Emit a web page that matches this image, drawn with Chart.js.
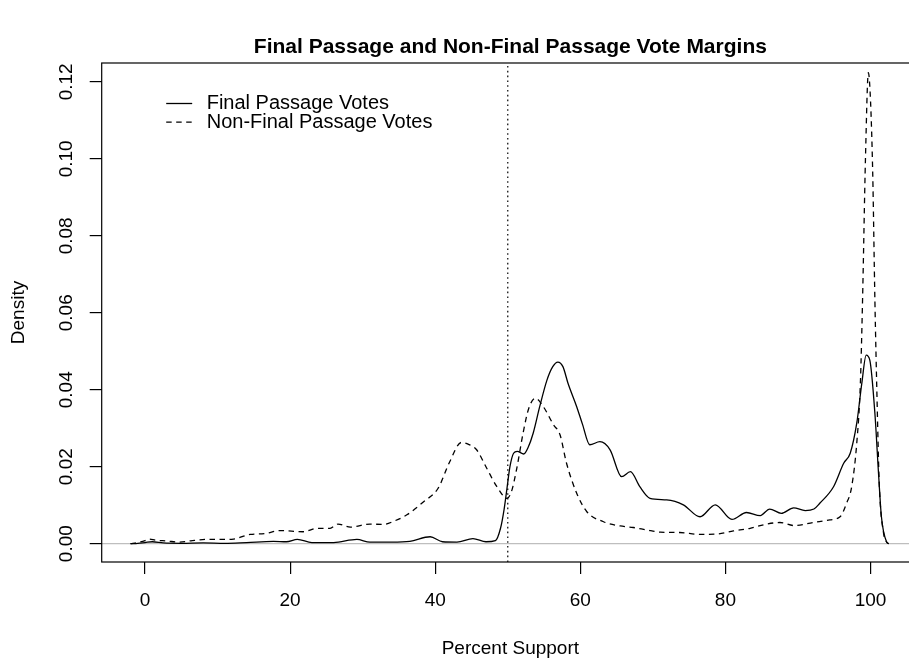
<!DOCTYPE html>
<html>
<head>
<meta charset="utf-8">
<script src="https://cdn.jsdelivr.net/npm/chart.js@4.4.0/dist/chart.umd.min.js"></script>
<style>
html,body{margin:0;padding:0;overflow:hidden;background:#fff;width:909px;height:663px;}
#wrap{position:absolute;left:0;top:0;width:919px;height:663px;}
</style>
</head>
<body>
<div id="wrap"><canvas id="c"></canvas></div>
<script>
// ---------- data ----------
const chartTitle = "Final Passage and Non-Final Passage Vote Margins";
const xAxisTitle = "Percent Support";
const yAxisTitle = "Density";
const seriesNames = ["Final Passage Votes", "Non-Final Passage Votes"];

const xTickValues = [0, 20, 40, 60, 80, 100];
const xTickLabels = ["0", "20", "40", "60", "80", "100"];
const yTickValues = [0, 0.02, 0.04, 0.06, 0.08, 0.10, 0.12];
const yTickLabels = ["0.00", "0.02", "0.04", "0.06", "0.08", "0.10", "0.12"];

const cutoffX = 50;

const finalX = [-2.0,-1.0,0.0,1.0,2.5,5,8,11,14,17.7,19.5,21,23,26,29.2,31,34,36.5,39.3,41,43,45.2,47,48.3,
  49.0,49.5,49.9,50.3,50.8,51.3,52.2,52.8,53.5,54.4,55.4,56.2,56.9,57.6,58.3,59.5,60.3,61.3,62.7,64.1,
  65.7,66.9,68.2,69.6,71.9,74.2,76.5,78.6,80.9,82.9,84.8,86.1,87.7,89.4,91.0,92.2,93.0,94.9,96.3,97.2,
  98.1,98.8,99.4,99.9,100.6,101.1,101.5,102.2,102.5];
const finalY = [0,0.0001,0.0003,0.0005,0.0002,0.0001,0.0002,0.0001,0.0003,0.0006,0.0005,0.0011,0.0003,0.0003,0.0011,0.0004,0.0004,0.0006,0.0018,0.0005,0.0004,0.0013,0.0005,0.0008,
  0.0040,0.0090,0.0145,0.0200,0.0235,0.0240,0.0233,0.0250,0.0287,0.0356,0.0425,0.0460,0.0472,0.0460,0.0417,0.0356,0.0310,0.0257,0.0265,0.0244,
  0.0174,0.0187,0.0148,0.0118,0.0114,0.0101,0.0070,0.0101,0.0063,0.0081,0.0073,0.0090,0.0079,0.0093,0.0086,0.0090,0.0105,0.0148,0.0209,0.0235,
  0.0313,0.0417,0.0490,0.0477,0.0339,0.0183,0.0070,0.0005,0];

const nonFinalX = [-2.0,-1,0,0.5,1.5,3,4.8,6.5,8.5,10.5,12.2,14.5,16.5,18.6,21.8,23.7,25.5,26.6,28.3,31,32.8,34.5,
  36.1,38.4,40.4,42.0,43.6,44.6,45.7,47.1,48.5,49.9,50.5,51.2,52.2,52.9,53.8,54.9,56.3,57.2,58.1,59.5,60.9,
  63.2,65.5,67.3,69.1,71.0,73.7,76.5,78.8,81.1,83.4,85.7,87.5,89.5,92.1,94.4,95.8,96.7,97.4,98.1,98.6,98.9,
  99.3,99.7,100.0,100.3,100.6,100.9,101.2,101.8,102.2,102.5];
const nonFinalY = [0,0.0003,0.0008,0.0012,0.0009,0.0007,0.0004,0.0008,0.0011,0.0011,0.0012,0.0024,0.0026,0.0034,0.0031,0.0040,0.0040,0.0051,0.0043,0.0051,0.0050,0.0060,
  0.0075,0.0109,0.0144,0.0213,0.0263,0.0258,0.0244,0.0196,0.0148,0.0118,0.0135,0.0192,0.0296,0.0352,0.0378,0.0356,0.0309,0.0283,0.0209,0.0131,0.0083,
  0.0057,0.0046,0.0042,0.0036,0.0030,0.0029,0.0024,0.0025,0.0033,0.0040,0.0051,0.0055,0.0047,0.0055,0.0062,0.0070,0.0105,0.0148,0.0261,0.0417,0.0633,
  0.1000,0.1224,0.1150,0.0963,0.0633,0.0373,0.0157,0.0027,0.0005,0];

// ---------- chart ----------
const FONT = '"Liberation Sans", Arial, Helvetica, sans-serif';
Chart.defaults.font.family = FONT;
Chart.defaults.color = '#000';

const X_MIN = -5.97, X_MAX = 106.68;
const Y_MIN = -0.00476, Y_MAX = 0.1249;

const toPts = (xs, ys) => xs.map((x, i) => ({x: x, y: ys[i]}));

const boxPlugin = {
  id: 'rBox',
  afterDatasetsDraw(chart) {
    const {ctx, chartArea: a} = chart;
    ctx.save();
    ctx.strokeStyle = '#000';
    ctx.lineWidth = 1.2;
    ctx.strokeRect(a.left, a.top, a.right - a.left, a.bottom - a.top);
    ctx.restore();
  }
};

const legendPlugin = {
  id: 'rLegend',
  afterDraw(chart) {
    const {ctx, chartArea: a} = chart;
    ctx.save();
    ctx.font = '20px ' + FONT;
    ctx.fillStyle = '#000';
    ctx.textBaseline = 'middle';
    ctx.textAlign = 'left';
    for (let i = 0; i < 2; i++) {
      const ds = chart.data.datasets[i];
      const y = a.top + 40.5 + i * 18.7;
      ctx.strokeStyle = ds.borderColor;
      ctx.lineWidth = ds.borderWidth;
      ctx.setLineDash(ds.borderDash || []);
      ctx.beginPath();
      ctx.moveTo(a.left + 64.5, y);
      ctx.lineTo(a.left + 90.5, y);
      ctx.stroke();
      ctx.setLineDash([]);
      ctx.fillText(ds.label, a.left + 105, y);
    }
    ctx.restore();
  }
};

new Chart(document.getElementById('c'), {
  type: 'line',
  data: {
    datasets: [
      {
        label: seriesNames[0],
        data: toPts(finalX, finalY),
        borderColor: '#000',
        borderWidth: 1.3,
        pointRadius: 0,
        fill: false,
        cubicInterpolationMode: 'monotone'
      },
      {
        label: seriesNames[1],
        data: toPts(nonFinalX, nonFinalY),
        borderColor: '#000',
        borderWidth: 1.3,
        borderDash: [5.5, 4.5],
        pointRadius: 0,
        fill: false,
        cubicInterpolationMode: 'monotone'
      },
      {
        label: 'cutoff',
        data: [{x: cutoffX, y: Y_MIN}, {x: cutoffX, y: Y_MAX}],
        borderColor: '#000',
        borderWidth: 1.2,
        borderDash: [1.6, 3.2],
        pointRadius: 0,
        fill: false
      },
      {
        label: 'zero',
        data: [{x: X_MIN, y: 0}, {x: X_MAX, y: 0}],
        borderColor: '#BEBEBE',
        borderWidth: 1.2,
        pointRadius: 0,
        fill: false
      }
    ]
  },
  options: {
    responsive: true,
    maintainAspectRatio: false,
    animation: false,
    events: [],
    layout: {padding: 0},
    plugins: {
      legend: {display: false},
      tooltip: {enabled: false},
      title: {
        display: true,
        text: chartTitle,
        fullSize: false,
        color: '#000',
        font: {size: 21, weight: 'bold', family: FONT},
        padding: {top: 35, bottom: 2.8}
      }
    },
    scales: {
      x: {
        type: 'linear',
        position: 'bottom',
        min: X_MIN,
        max: X_MAX,
        afterBuildTicks: s => { s.ticks = xTickValues.map(v => ({value: v})); },
        afterFit: s => { s.height = 101; },
        ticks: {
          autoSkip: false,
          maxRotation: 0,
          minRotation: 0,
          padding: 15.6,
          color: '#000',
          font: {size: 19},
          callback: v => xTickLabels[xTickValues.indexOf(v)]
        },
        grid: {drawOnChartArea: false, drawTicks: true, tickLength: 12, color: '#000', lineWidth: 1.2},
        border: {display: false},
        title: {display: true, text: xAxisTitle, color: '#000', font: {size: 19}, padding: {top: 0, bottom: 3}}
      },
      y: {
        type: 'linear',
        position: 'left',
        min: Y_MIN,
        max: Y_MAX,
        afterBuildTicks: s => { s.ticks = yTickValues.map(v => ({value: v})); },
        afterFit: s => { s.width = 101.7; },
        ticks: {
          autoSkip: false,
          minRotation: 90,
          maxRotation: 90,
          crossAlign: 'center',
          padding: 4.2,
          color: '#000',
          font: {size: 19},
          callback: v => yTickLabels[yTickValues.indexOf(v)]
        },
        grid: {drawOnChartArea: false, drawTicks: true, tickLength: 12, color: '#000', lineWidth: 1.2},
        border: {display: false},
        title: {display: true, text: yAxisTitle, color: '#000', font: {size: 19}, padding: {top: 7.6, bottom: 0}}
      }
    }
  },
  plugins: [boxPlugin, legendPlugin]
});
</script>
</body>
</html>
